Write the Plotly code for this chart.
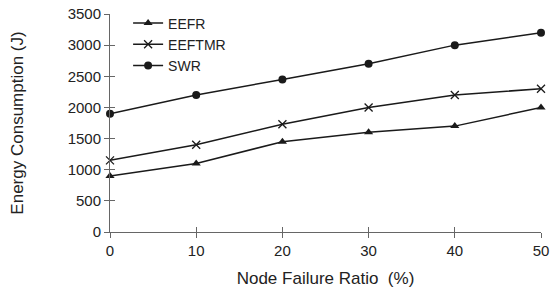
import plotly.graph_objects as go

x_vals = [0, 10, 20, 30, 40, 50]
eefr = [900, 1100, 1450, 1600, 1700, 2000]
eeftmr = [1150, 1400, 1730, 2000, 2200, 2300]
swr = [1900, 2200, 2450, 2700, 3000, 3200]
y_ticks = [0, 500, 1000, 1500, 2000, 2500, 3000, 3500]
x_ticks = [0, 10, 20, 30, 40, 50]

font = "Liberation Sans, Arial, sans-serif"
lc = "#1a1a1a"

fig = go.Figure()
fig.add_trace(go.Scatter(x=x_vals, y=eefr, name="EEFR", mode="lines+markers",
                         line=dict(color=lc, width=1.5),
                         marker=dict(symbol="triangle-up", size=8, color=lc),
                         cliponaxis=False))
fig.add_trace(go.Scatter(x=x_vals, y=eeftmr, name="EEFTMR", mode="lines+markers",
                         line=dict(color=lc, width=1.5),
                         marker=dict(symbol="x-thin-open", size=8, color=lc,
                                     line=dict(color=lc, width=1.3)),
                         cliponaxis=False))
fig.add_trace(go.Scatter(x=x_vals, y=swr, name="SWR", mode="lines+markers",
                         line=dict(color=lc, width=1.5),
                         marker=dict(symbol="circle", size=8, color=lc),
                         cliponaxis=False))

axis_common = dict(showgrid=False, zeroline=False, showline=True, linecolor="#666",
                   linewidth=1, ticks="outside", ticklen=5, tickcolor="#666",
                   automargin=False, ticklabeloverflow="allow",
                   tickfont=dict(family=font, size=15, color="#222"))

fig.update_layout(
    width=553, height=289,
    margin=dict(l=110, r=12, t=14, b=57, autoexpand=False),
    paper_bgcolor="white", plot_bgcolor="white",
    font=dict(family=font, size=14, color="#222"),
    showlegend=True,
    legend=dict(x=0.042, y=1.03, xanchor="left", yanchor="top",
                bgcolor="rgba(0,0,0,0)", font=dict(family=font, size=14, color="#222"),
                tracegroupgap=0, itemwidth=30),
    xaxis=dict(range=[0, 50], tickvals=x_ticks, **axis_common,
               title=dict(text="Node Failure Ratio  (%)", font=dict(family=font, size=17), standoff=14)),
    yaxis=dict(range=[0, 3500], tickvals=y_ticks, **axis_common,
               title=dict(text="Energy Consumption (J)", font=dict(family=font, size=17), standoff=39)),
    xaxis2=dict(range=[0, 50], tickvals=x_ticks, overlaying="x", side="bottom",
                showgrid=False, zeroline=False, showline=False, ticks="inside",
                ticklen=5, tickcolor="#666", showticklabels=False, automargin=False),
    yaxis2=dict(range=[0, 3500], tickvals=y_ticks, overlaying="y", side="left",
                showgrid=False, zeroline=False, showline=False, ticks="inside",
                ticklen=5, tickcolor="#666", showticklabels=False, automargin=False),
)
fig.add_trace(go.Scatter(x=[None], y=[None], xaxis="x2", yaxis="y2", showlegend=False,
                         hoverinfo="skip"))

fig.write_html("out.html", config={"displayModeBar": False},
               post_script="document.body.style.margin='0';document.body.style.overflow='hidden';")
